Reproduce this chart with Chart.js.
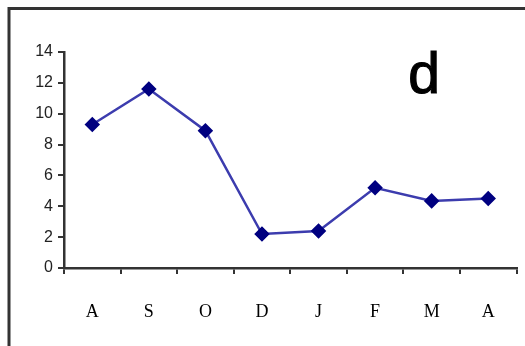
<!DOCTYPE html>
<html>
<head>
<meta charset="utf-8">
<script src="https://cdn.jsdelivr.net/npm/chart.js@4/dist/chart.umd.min.js"></script>
<style>
  html, body { margin: 0; padding: 0; background: #fff; }
  #wrap { width: 525px; height: 346px; }
</style>
</head>
<body>
<div id="wrap"><canvas id="lineChart" width="525" height="346"></canvas></div>
<script>
// months, August to April
const months = ["A", "S", "O", "D", "J", "F", "M", "A"];
const values = [9.3, 11.6, 8.9, 2.2, 2.4, 5.2, 4.35, 4.5];
const yTicks = [0, 2, 4, 6, 8, 10, 12, 14];
const panelLabel = "d";

// frame (top and left edge) plus the panel letter
const framePlugin = {
    id: 'frame',
    afterDraw(chart) {
        const ctx = chart.ctx;
        ctx.save();
        ctx.strokeStyle = '#333';
        ctx.lineWidth = 3;
        ctx.beginPath();
        ctx.moveTo(9, 346);
        ctx.lineTo(9, 8.5);
        ctx.lineTo(525, 8.5);
        ctx.stroke();
        ctx.fillStyle = '#000';
        ctx.font = '57px "Liberation Sans", Arial, sans-serif';
        ctx.textAlign = 'center';
        ctx.textBaseline = 'alphabetic';
        ctx.fillText(panelLabel, 424, 93);
        ctx.lineWidth = 1.2;
        ctx.strokeStyle = '#000';
        ctx.strokeText(panelLabel, 424, 93);
        ctx.restore();
    }
};

function renderLineChart() {
    const ctx = document.getElementById('lineChart').getContext('2d');
    new Chart(ctx, {
        type: 'line',
        data: {
            labels: months,
            datasets: [{
                data: values,
                borderColor: '#3c3cae',
                borderWidth: 2.5,
                pointStyle: 'rectRot',
                pointRadius: 6,
                pointBackgroundColor: '#000080',
                pointBorderColor: '#000080',
                tension: 0
            }]
        },
        options: {
            responsive: false,
            animation: false,
            layout: { padding: { left: 0, top: 52, right: 8, bottom: 0 } },
            plugins: { legend: { display: false }, tooltip: { enabled: false } },
            scales: {
                x: {
                    offset: true,
                    grid: { offset: true, drawOnChartArea: false, drawTicks: true, tickLength: 6, color: '#333', lineWidth: 2 },
                    border: { color: '#333', width: 2.5 },
                    ticks: {
                        padding: 27,
                        color: '#000',
                        font: { family: '"Liberation Serif", "Times New Roman", serif', size: 18 }
                    },
                    afterFit(scale) { scale.height = 78; }
                },
                y: {
                    min: 0,
                    max: 14,
                    afterBuildTicks(scale) { scale.ticks = yTicks.map(v => ({ value: v })); },
                    grid: { drawOnChartArea: false, drawTicks: true, tickLength: 6, color: '#333', lineWidth: 2 },
                    border: { color: '#333', width: 2.5 },
                    ticks: {
                        padding: 5,
                        color: '#222',
                        font: { family: '"Liberation Sans", Arial, sans-serif', size: 16 }
                    },
                    afterFit(scale) { scale.width = 64; }
                }
            }
        },
        plugins: [framePlugin]
    });
}

renderLineChart();
</script>
</body>
</html>
